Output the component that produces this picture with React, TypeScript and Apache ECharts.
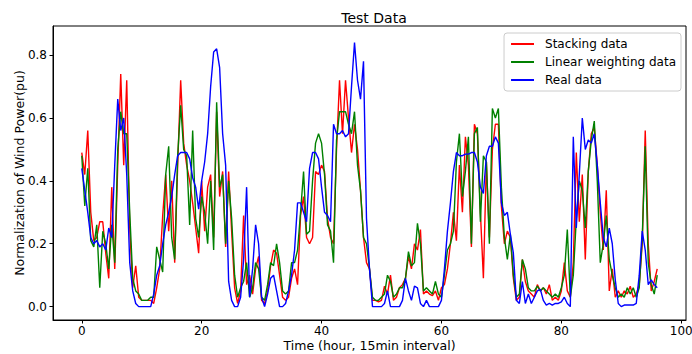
import React, { useEffect, useRef } from "react";
import * as echarts from "echarts";

// Time step: 0.5 h samples from 0 to 96 h
const STEP_HOURS = 0.5;

const stackingData = [
  0.49, 0.42, 0.56, 0.30, 0.21, 0.22, 0.27, 0.27, 0.17, 0.09, 0.38, 0.12, 0.45, 0.74, 0.45, 0.72, 0.25, 0.06, 0.13, 0.03,
  0.02, 0.02, 0.02, 0.02, 0.01, 0.06, 0.12, 0.29, 0.42, 0.24, 0.40, 0.14, 0.45, 0.72, 0.52, 0.45, 0.40, 0.33, 0.25, 0.17,
  0.40, 0.24, 0.38, 0.42, 0.22, 0.62, 0.35, 0.43, 0.19, 0.43, 0.24, 0.06, 0.01, 0.05, 0.29, 0.07, 0.10, 0.04, 0.12, 0.16,
  0.02, 0.01, 0.05, 0.13, 0.18, 0.17, 0.10, 0.03, 0.02, 0.03, 0.09, 0.12, 0.07, 0.29, 0.35, 0.22, 0.20, 0.22, 0.43, 0.42,
  0.45, 0.43, 0.28, 0.22, 0.20, 0.50, 0.72, 0.55, 0.72, 0.60, 0.49, 0.58, 0.50, 0.37, 0.22, 0.14, 0.12, 0.02, 0.02, 0.015,
  0.02, 0.065, 0.04, 0.10, 0.02, 0.03, 0.06, 0.07, 0.09, 0.16, 0.12, 0.20, 0.18, 0.245, 0.04, 0.05, 0.04, 0.035, 0.05, 0.02,
  0.06, 0.07, 0.12, 0.20, 0.30, 0.21, 0.45, 0.30, 0.54, 0.45, 0.19, 0.58, 0.55, 0.30, 0.09, 0.46, 0.22, 0.50, 0.58, 0.58,
  0.32, 0.20, 0.24, 0.22, 0.09, 0.02, 0.03, 0.15, 0.08, 0.05, 0.04, 0.03, 0.07, 0.05, 0.06, 0.04, 0.07, 0.02, 0.03, 0.02,
  0.05, 0.14, 0.05, 0.03, 0.14, 0.49, 0.27, 0.42, 0.15, 0.43, 0.55, 0.57, 0.45, 0.30, 0.18, 0.37, 0.05, 0.12, 0.03, 0.05,
  0.03, 0.05, 0.04, 0.065, 0.03, 0.04, 0.07, 0.20, 0.56, 0.20, 0.05, 0.08, 0.12,
];

const linearWeightingData = [
  0.48, 0.32, 0.44, 0.21, 0.19, 0.26, 0.06, 0.24, 0.20, 0.12, 0.26, 0.14, 0.50, 0.62, 0.55, 0.55, 0.30, 0.09, 0.05, 0.04,
  0.02, 0.02, 0.02, 0.03, 0.03, 0.19, 0.15, 0.11, 0.42, 0.51, 0.22, 0.15, 0.48, 0.64, 0.50, 0.48, 0.26, 0.56, 0.28, 0.22,
  0.35, 0.30, 0.20, 0.40, 0.18, 0.65, 0.38, 0.42, 0.20, 0.40, 0.28, 0.10, 0.03, 0.06, 0.08, 0.14, 0.03, 0.06, 0.14, 0.12,
  0.03, 0.02, 0.07, 0.14, 0.13, 0.20, 0.14, 0.05, 0.04, 0.05, 0.14, 0.14, 0.18, 0.30, 0.43, 0.23, 0.24, 0.40, 0.52, 0.55,
  0.52, 0.42, 0.26, 0.24, 0.14, 0.53, 0.62, 0.62, 0.62, 0.58, 0.55, 0.62, 0.45, 0.37, 0.22, 0.20, 0.12, 0.03, 0.02, 0.02,
  0.03, 0.04, 0.10, 0.08, 0.03, 0.04, 0.06, 0.06, 0.09, 0.175, 0.13, 0.14, 0.265, 0.20, 0.05, 0.06, 0.05, 0.04, 0.08, 0.04,
  0.03, 0.10, 0.18, 0.20, 0.24, 0.46, 0.55, 0.35, 0.43, 0.54, 0.20, 0.55, 0.57, 0.27, 0.48, 0.46, 0.20, 0.63, 0.60, 0.63,
  0.38, 0.22, 0.15, 0.23, 0.10, 0.03, 0.04, 0.15, 0.12, 0.06, 0.05, 0.05, 0.065, 0.05, 0.06, 0.05, 0.04, 0.03, 0.04, 0.03,
  0.06, 0.10, 0.245, 0.03, 0.10, 0.28, 0.40, 0.37, 0.25, 0.43, 0.53, 0.59, 0.40, 0.14, 0.20, 0.29, 0.15, 0.10, 0.06, 0.03,
  0.04, 0.03, 0.06, 0.04, 0.06, 0.03, 0.06, 0.22, 0.51, 0.14, 0.07, 0.04, 0.10,
];

const realData = [
  0.44, 0.37, 0.30, 0.22, 0.20, 0.21, 0.19, 0.20, 0.18, 0.25, 0.22, 0.45, 0.66, 0.56, 0.60, 0.42, 0.14, 0.05, 0.01, 0.0,
  0.0, 0.0, 0.0, 0.0, 0.04, 0.10, 0.13, 0.20, 0.26, 0.30, 0.35, 0.42, 0.48, 0.49, 0.49, 0.49, 0.47, 0.41, 0.38, 0.31,
  0.40, 0.46, 0.55, 0.70, 0.81, 0.82, 0.76, 0.55, 0.45, 0.08, 0.02, 0.0, 0.0, 0.03, 0.15, 0.38, 0.03, 0.12, 0.26, 0.20,
  0.03, 0.0, 0.04, 0.09, 0.10, 0.05, 0.0, 0.0, 0.01, 0.05, 0.10, 0.18, 0.33, 0.33, 0.30, 0.27, 0.44, 0.49, 0.49, 0.47,
  0.38, 0.30, 0.29, 0.27, 0.58, 0.55, 0.55, 0.56, 0.54, 0.55, 0.70, 0.84, 0.72, 0.66, 0.78, 0.28, 0.12, 0.0, 0.0, 0.0,
  0.0, 0.01, 0.05, 0.0, 0.0, 0.0, 0.0, 0.02, 0.09, 0.05, 0.02, 0.065, 0.06, 0.01, 0.0, 0.02, 0.0, 0.0, 0.0, 0.0,
  0.02, 0.12, 0.24, 0.33, 0.43, 0.49, 0.48, 0.48, 0.485, 0.485, 0.49, 0.49, 0.46, 0.38, 0.36, 0.48, 0.51, 0.51, 0.54, 0.52,
  0.33, 0.29, 0.30, 0.23, 0.17, 0.02, 0.01, 0.08, 0.01, 0.04, 0.01, 0.03, 0.05, 0.055, 0.02, 0.005, 0.01, 0.005, 0.01, 0.01,
  0.015, 0.03, 0.01, 0.0, 0.54, 0.25, 0.42, 0.60, 0.50, 0.53, 0.52, 0.55, 0.45, 0.33, 0.22, 0.19, 0.25, 0.20, 0.085, 0.01,
  0.0, 0.005, 0.005, 0.005, 0.005, 0.01, 0.10, 0.24, 0.18, 0.07, 0.085, 0.07, 0.06,
];

const xTicks = [0, 20, 40, 60, 80, 100];
const yTicks = [0.0, 0.2, 0.4, 0.6, 0.8];

const seriesNames = ["Stacking data", "Linear weighting data", "Real data"];
const seriesColors = ["#ff0000", "#008000", "#0000ff"];

const FONT = "DejaVu Sans";

const toPairs = (vals: number[]) => vals.map((v, i) => [i * STEP_HOURS, v]);

export default function App() {
  const ref = useRef<HTMLDivElement>(null);
  useEffect(() => {
    if (!ref.current) return;
    const chart = echarts.init(ref.current, undefined, { renderer: "svg" });
    const allData = [stackingData, linearWeightingData, realData];
    chart.setOption({
      animation: false,
      backgroundColor: "#ffffff",
      textStyle: { fontFamily: FONT },
      title: {
        text: "Test Data",
        left: 369,
        textAlign: "center",
        top: 6,
        textStyle: { fontFamily: FONT, fontSize: 14, fontWeight: "normal", color: "#000" },
      },
      legend: {
        orient: "vertical",
        right: 11,
        top: 33,
        padding: [4, 5, 4, 7],
        itemGap: 4,
        itemWidth: 23,
        itemHeight: 2,
        icon: "rect",
        borderColor: "#cccccc",
        borderWidth: 1,
        borderRadius: 3,
        backgroundColor: "rgba(255,255,255,0.8)",
        data: seriesNames,
        textStyle: { fontFamily: FONT, fontSize: 12, lineHeight: 14, color: "#000", padding: [0, 0, 0, 6] },
      },
      grid: {
        left: 53,
        right: 6,
        top: 26,
        bottom: 34,
        show: true,
        borderColor: "#000",
        borderWidth: 1,
        backgroundColor: "transparent",
        containLabel: false,
        outerBoundsMode: "none",
      },
      xAxis: {
        type: "value",
        min: -4.8,
        max: 100.8,
        name: "Time (hour, 15min interval)",
        nameLocation: "middle",
        nameGap: 19,
        nameMoveOverlap: false,
        nameTextStyle: { fontFamily: FONT, fontSize: 12.5, color: "#000" },
        splitLine: { show: false },
        axisLine: { show: true, onZero: false, lineStyle: { color: "#000", width: 1 } },
        axisTick: { show: true, customValues: xTicks, length: 3.5, lineStyle: { color: "#000" } },
        axisLabel: {
          customValues: xTicks,
          margin: 5,
          fontFamily: FONT,
          fontSize: 12,
          color: "#000",
          formatter: (v: number) => String(v),
        },
      },
      yAxis: {
        type: "value",
        min: -0.0425,
        max: 0.8925,
        name: "Normalization of Wind Power(pu)",
        nameLocation: "middle",
        nameGap: 27,
        nameMoveOverlap: false,
        nameTextStyle: { fontFamily: FONT, fontSize: 12.5, color: "#000" },
        splitLine: { show: false },
        axisLine: { show: true, onZero: false, lineStyle: { color: "#000", width: 1 } },
        axisTick: { show: true, customValues: yTicks, length: 3.5, lineStyle: { color: "#000" } },
        axisLabel: {
          customValues: yTicks,
          margin: 6,
          fontFamily: FONT,
          fontSize: 12,
          color: "#000",
          formatter: (v: number) => v.toFixed(1),
        },
      },
      series: seriesNames.map((name, k) => ({
        name,
        type: "line",
        data: toPairs(allData[k]),
        showSymbol: false,
        symbol: "none",
        color: seriesColors[k],
        lineStyle: { color: seriesColors[k], width: 1.4 },
        z: 2 + k,
      })),
    });
    return () => chart.dispose();
  }, []);
  return <div ref={ref} style={{ width: 692, height: 354, position: "absolute", left: 0, top: 0 }} />;
}
